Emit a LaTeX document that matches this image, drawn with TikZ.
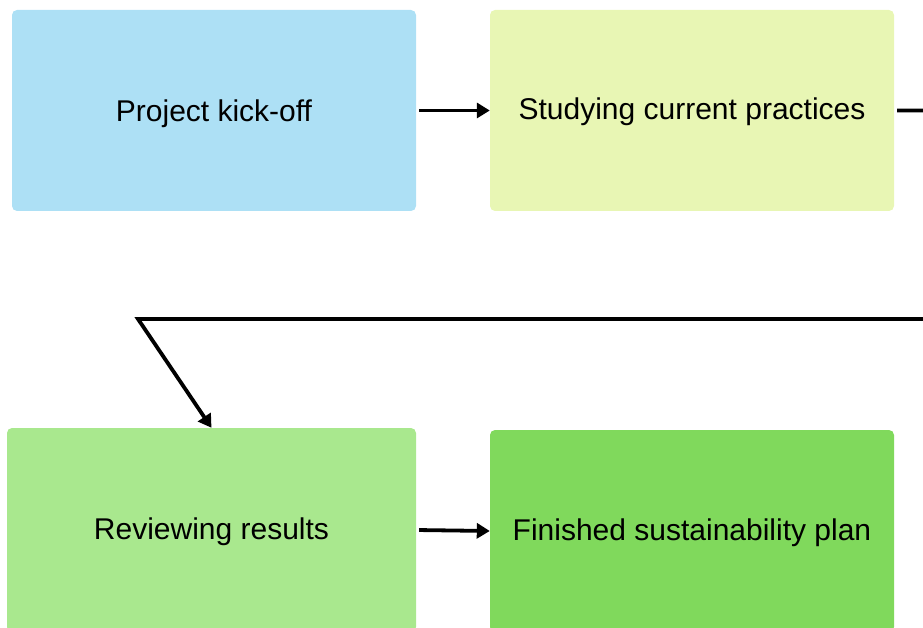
\documentclass[tikz,border=0pt]{standalone}
\usepackage{fontspec}
\setmainfont{Liberation Sans}
\usepackage{tikz}
\usetikzlibrary{arrows.meta}
\definecolor{kickcolor}{HTML}{ADE0F5}
\definecolor{studycolor}{HTML}{E8F6B4}
\definecolor{reviewcolor}{HTML}{A9E88E}
\definecolor{plancolor}{HTML}{80D95C}
\tikzset{
  stage/.style={
    rectangle,
    rounded corners=5pt,
    minimum width=404pt,
    minimum height=201pt,
    inner sep=0pt,
    text height=22pt,
    text depth=3pt,
    font=\fontsize{30}{36}\selectfont
  },
  flow/.style={
    -{Triangle[length=13pt,width=15pt]},
    line width=3.8pt,
    shorten <=3pt
  }
}

\begin{document}
\begin{tikzpicture}[x=1pt,y=-1pt]
  \useasboundingbox (0,0) rectangle (923,628);
  \clip (0,0) rectangle (923,628);

  % Top row
  \node[stage, fill=kickcolor, text depth=0pt] (kickoff) at (214,110.5) {Project kick-off};
  \node[stage, fill=studycolor] (study) at (692,110.5) {Studying current practices};

  % Bottom row
  \node[stage, fill=reviewcolor, minimum width=409pt, minimum height=204pt] (review) at (211.5,530) {Reviewing results};
  \node[stage, fill=plancolor, minimum height=202pt] (plan) at (692,531) {Finished sustainability plan};

  % Return line
  \coordinate (turnA) at (940,110.5);
  \coordinate (turnB) at (940,319);
  \coordinate (bend) at (138,319);

  % Arrows
  \draw[flow] (kickoff) -- (study);
  \draw[flow] (study.east) -- (turnA) -- (turnB) -- (bend) -- (review.north);
  \draw[flow] (review.east) -- (plan.west);

\end{tikzpicture}
\end{document}
